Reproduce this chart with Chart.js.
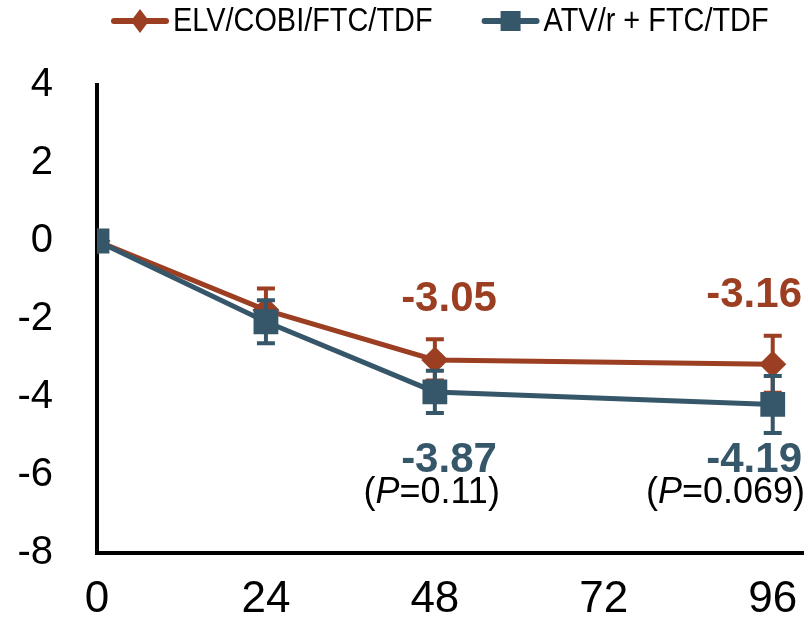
<!DOCTYPE html>
<html>
<head>
<meta charset="utf-8">
<script src="https://cdn.jsdelivr.net/npm/chart.js@4"></script>
<style>
  html, body { margin: 0; padding: 0; background: #fff; }
</style>
</head>
<body>
<canvas id="chart" width="808" height="619"></canvas>
<script>
// weeks on the x axis, change from baseline on the y axis
const xTicks = [0, 24, 48, 72, 96];
const yTicks = [-8, -6, -4, -2, 0, 2, 4];
const weeks = [0, 24, 48, 96];
const elvChange = [0, -1.77, -3.05, -3.16];
const elvError = [0, 0.55, 0.53, 0.73];
const atvChange = [0, -2.07, -3.87, -4.19];
const atvError = [0, 0.55, 0.54, 0.73];
const pValues = [null, null, '0.11', '0.069'];

const ORANGE = '#9b3e22';
const BLUE = '#365669';
const FONT = '"Liberation Sans", Arial, sans-serif';

const toPoints = (vals) => vals.map((v, i) => ({ x: weeks[i], y: v }));

// line + marker swatch for the legend
function drawSwatch(ctx, x, y, color, shape) {
  ctx.strokeStyle = color; ctx.fillStyle = color;
  ctx.lineWidth = 6; ctx.lineCap = 'round';
  ctx.beginPath(); ctx.moveTo(x + 3, y); ctx.lineTo(x + 55, y); ctx.stroke();
  if (shape === 'rectRot') {
    ctx.beginPath();
    ctx.moveTo(x + 29, y - 12); ctx.lineTo(x + 38, y);
    ctx.lineTo(x + 29, y + 12); ctx.lineTo(x + 20, y);
    ctx.closePath(); ctx.fill();
  } else {
    ctx.fillRect(x + 19, y - 10, 20, 20);
  }
}

// legend drawn in one row above the plot, slightly condensed text
const lineLegend = {
  id: 'lineLegend',
  afterDraw(chart) {
    const ctx = chart.ctx;
    const y = 21;
    let x = chart.chartArea.left + 14;
    ctx.save();
    ctx.font = '34px ' + FONT;
    ctx.textBaseline = 'middle';
    ctx.textAlign = 'left';
    chart.data.datasets.forEach((ds) => {
      drawSwatch(ctx, x, y, ds.borderColor, ds.pointStyle);
      x += 62;
      ctx.save();
      ctx.translate(x, y + 1);
      ctx.scale(0.85, 1);
      ctx.fillStyle = '#000';
      ctx.fillText(ds.label, 0, 0);
      ctx.restore();
      x += ctx.measureText(ds.label).width * 0.85 + 49;
    });
    ctx.restore();
  }
};

// vertical error bars, drawn under each dataset's line and markers
const errorBars = {
  id: 'errorBars',
  beforeDatasetDraw(chart, args) {
    const ds = chart.data.datasets[args.index];
    const ys = chart.scales.y;
    const ctx = chart.ctx;
    ctx.save();
    ctx.strokeStyle = ds.borderColor;
    ctx.lineWidth = 4;
    args.meta.data.forEach((pt, i) => {
      const e = ds.errors[i];
      if (!e) return;
      const v = ds.data[i].y;
      const top = ys.getPixelForValue(v + e);
      const bot = ys.getPixelForValue(v - e);
      ctx.beginPath();
      ctx.moveTo(pt.x, top); ctx.lineTo(pt.x, bot);
      ctx.moveTo(pt.x - 9, top); ctx.lineTo(pt.x + 9, top);
      ctx.moveTo(pt.x - 9, bot); ctx.lineTo(pt.x + 9, bot);
      ctx.stroke();
    });
    ctx.restore();
  }
};

// value labels at the last two timepoints, plus P values
const valueLabels = {
  id: 'valueLabels',
  afterDatasetsDraw(chart) {
    const ctx = chart.ctx;
    const ys = chart.scales.y;
    const right = chart.chartArea.right - 1;
    const elv = chart.getDatasetMeta(0).data;
    ctx.save();
    ctx.textBaseline = 'middle';
    ctx.textAlign = 'right';
    const lowY = ys.getPixelForValue(-5.62);
    for (let i = 2; i < weeks.length; i++) {
      const xr = Math.min(elv[i].x + 62, right);
      ctx.font = 'bold 42px ' + FONT;
      ctx.fillStyle = ORANGE;
      const topY = ys.getPixelForValue(elvChange[i] + elvError[i]) - 40;
      ctx.fillText(elvChange[i].toFixed(2), xr, topY);
      ctx.fillStyle = BLUE;
      ctx.fillText(atvChange[i].toFixed(2), xr, lowY);
      if (pValues[i]) {
        const py = lowY + 33;
        const tail = '=' + pValues[i] + ')';
        ctx.fillStyle = '#000';
        ctx.font = '36px ' + FONT;
        const wTail = ctx.measureText(tail).width;
        ctx.fillText(tail, xr + 3, py);
        ctx.font = 'italic 36px ' + FONT;
        const wP = ctx.measureText('P').width;
        ctx.fillText('P', xr + 3 - wTail, py);
        ctx.font = '36px ' + FONT;
        ctx.fillText('(', xr + 3 - wTail - wP, py);
      }
    }
    ctx.restore();
  }
};

new Chart(document.getElementById('chart'), {
  type: 'line',
  data: {
    datasets: [{
      label: 'ELV/COBI/FTC/TDF',
      data: toPoints(elvChange),
      errors: elvError,
      borderColor: ORANGE,
      backgroundColor: ORANGE,
      borderWidth: 5,
      pointStyle: 'rectRot',
      pointRadius: 10,
      order: 1
    }, {
      label: 'ATV/r + FTC/TDF',
      data: toPoints(atvChange),
      errors: atvError,
      borderColor: BLUE,
      backgroundColor: BLUE,
      borderWidth: 5,
      pointStyle: 'rect',
      pointRadius: 14,
      order: 0
    }]
  },
  options: {
    responsive: false,
    animation: false,
    layout: { autoPadding: false, padding: { left: 0, right: 5, top: 85, bottom: 0 } },
    plugins: {
      tooltip: { enabled: false },
      legend: { display: false }
    },
    scales: {
      x: {
        type: 'linear',
        min: 0,
        max: 100.3,
        afterBuildTicks: (s) => { s.ticks = xTicks.map(v => ({ value: v })); },
        grid: { display: false, drawTicks: false },
        border: { display: true, color: '#000', width: 4 },
        ticks: { color: '#000', padding: 20, font: { family: FONT, size: 44 } },
        afterFit: (s) => { s.height = 66; s.paddingLeft = 0; s.paddingRight = 0; }
      },
      y: {
        min: -8,
        max: 4,
        afterBuildTicks: (s) => { s.ticks = yTicks.map(v => ({ value: v })); },
        grid: { display: false, drawTicks: false },
        border: { display: true, color: '#000', width: 4 },
        ticks: { color: '#000', padding: 44, font: { family: FONT, size: 40 } },
        afterFit: (s) => { s.width = 97; s.paddingTop = 0; s.paddingBottom = 0; }
      }
    }
  },
  plugins: [errorBars, valueLabels, lineLegend]
});
</script>
</body>
</html>
